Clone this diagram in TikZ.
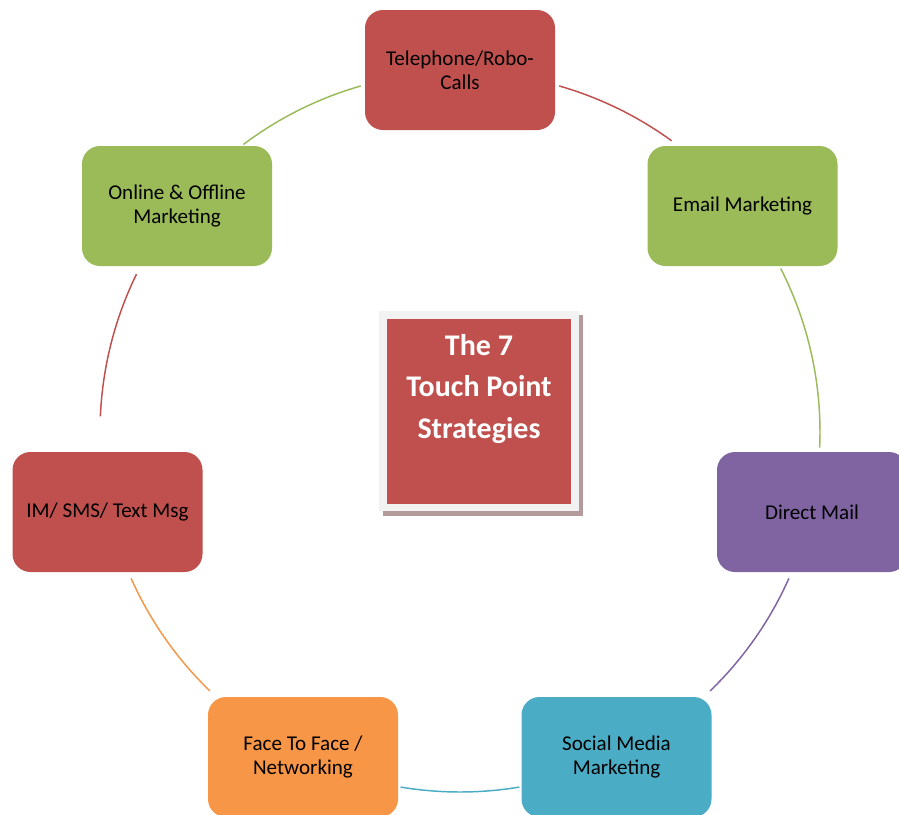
\documentclass[tikz,border=0pt]{standalone}
\usepackage{fontspec}
\setmainfont{Carlito}
\definecolor{cred}{HTML}{C0504D}
\definecolor{cgreen}{HTML}{9BBB59}
\definecolor{cpurple}{HTML}{8064A2}
\definecolor{ccyan}{HTML}{4BACC6}
\definecolor{corange}{HTML}{F79646}
\definecolor{frame}{HTML}{F2F2F2}
\definecolor{shadowc}{HTML}{B49A9A}
\tikzset{
  pointbox/.style={rounded corners=13.5pt, minimum width=142.5pt, minimum height=90pt,
    align=center, inner sep=0pt, font=\fontsize{15.8}{18}\selectfont, text=black},
  ring/.style={line width=1.1pt},
}
\begin{document}
\begin{tikzpicture}[x=0.75pt,y=-0.75pt]
\useasboundingbox (0,0) rectangle (899,814);
\clip (0,0) rectangle (899,814);
\fill[white] (0,0) rectangle (899,814);
% ring arcs (circle centre (460,432), radius 360)
\coordinate (cc) at (460,432);
\newcommand{\ringarc}[3]{\draw[ring,#3] plot[domain=#1:#2,samples=40,variable=\t] ({460+360*cos(\t)},{432-360*sin(\t)});}
\ringarc{74}{54}{cred}
\ringarc{27}{-2.5}{cgreen}
\ringarc{-24}{-46}{cpurple}
\ringarc{-80.5}{-99.5}{ccyan}
\ringarc{-134}{-156}{corange}
\ringarc{177.5}{154}{cred}
\ringarc{127}{106}{cgreen}
% boxes
\node[pointbox, fill=cred] (tel) at (460,70) {Telephone/Robo-\\Calls};
\node[pointbox, fill=cgreen] (email) at (742.5,206) {Email Marketing};
\node[pointbox, fill=cpurple] (mail) at (812,512) {Direct Mail};
\node[pointbox, fill=ccyan] (social) at (616.5,757) {Social Media\\Marketing};
\node[pointbox, fill=corange] (face) at (303,757) {Face To Face /\\Networking};
\node[pointbox, fill=cred] (im) at (107.5,512) {IM/ SMS/ Text Msg};
\node[pointbox, fill=cgreen] (online) at (177,206) {Online \& Offline\\Marketing};
% centre box
\fill[shadowc] (383,315) rectangle (583,516);
\fill[frame] (379,311) rectangle (579,511);
\node[fill=cred, minimum width=138pt, minimum height=138.75pt, inner sep=0pt] (core) at (479,411) {};
\node[text=white, align=center, font=\bfseries\fontsize{22.5}{31}\selectfont] (title) at (479,389) {The 7\\Touch Point\\Strategies};
\end{tikzpicture}
\end{document}
